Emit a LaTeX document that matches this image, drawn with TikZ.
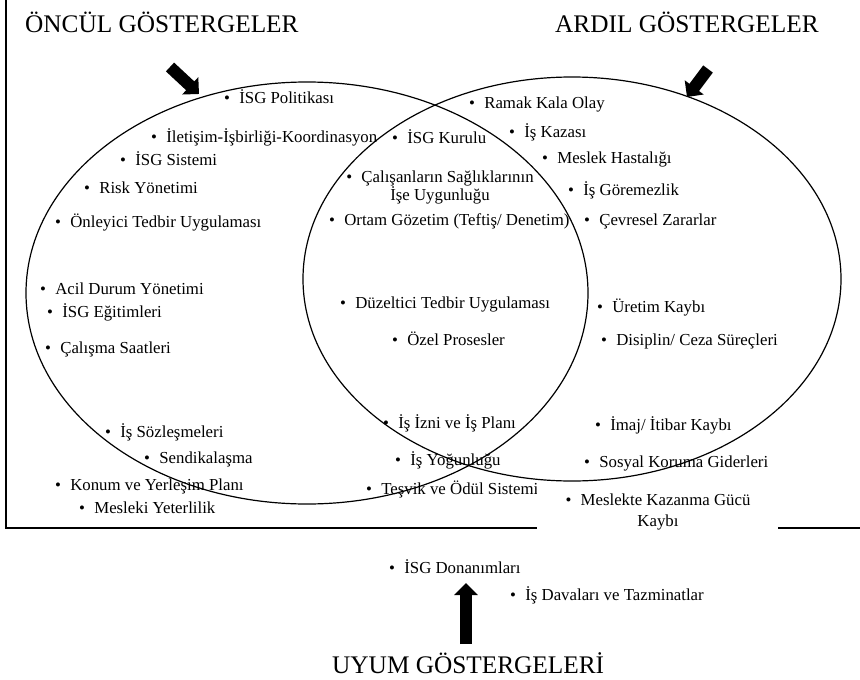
\documentclass[tikz,border=0pt]{standalone}
\usepackage{fontspec}
\setmainfont{Liberation Serif}
\usetikzlibrary{arrows.meta}
\newcommand\itembul{\textbullet\hspace{0.55em}}
\begin{document}
\begin{tikzpicture}[x=1pt,y=-1pt,
  item/.style={anchor=base west, inner sep=0pt, font=\fontsize{16.8}{18}\selectfont},
  citem/.style={item, anchor=base, align=center},
  title/.style={anchor=base west, inner sep=0pt, font=\fontsize{25.3}{28}\selectfont},
  ell/.style={line width=1.2pt},
  frameline/.style={line width=1.5pt},
  bigarrow/.style={line width=12pt, -{Triangle[length=12pt,width=23pt]}}]
\useasboundingbox (0,0) rectangle (860,680);

% frame
\coordinate (f1) at (6,0);
\coordinate (f2) at (6,528);
\coordinate (f3) at (860,528);
\draw[frameline] (f1) -- (f2) -- (f3);

% ellipses
\draw[ell] (307,293) ellipse [x radius=281pt, y radius=211pt];
\draw[ell] (572,279) ellipse [x radius=269pt, y radius=202pt];

% titles
\node[title] (t1) at (25,32) {ÖNCÜL GÖSTERGELER};
\node[title] (t2) at (555,32) {ARDIL GÖSTERGELER};
\node[title] (t3) at (332,673) {UYUM GÖSTERGELERİ};

% arrows
\coordinate (a1s) at (170,67); \coordinate (a1e) at (199,94);
\coordinate (a2s) at (708,69); \coordinate (a2e) at (687,97);
\coordinate (a3s) at (466,644); \coordinate (a3e) at (466,583);
\draw[bigarrow] (a1s) -- (a1e);
\draw[bigarrow] (a2s) -- (a2e);
\draw[bigarrow] (a3s) -- (a3e);

% leading indicators
\node[item] (l1) at (224,103) {\itembul İSG Politikası};
\node[item] (l2) at (151,142) {\itembul İletişim-İşbirliği-Koordinasyon};
\node[item] (l3) at (120,165) {\itembul İSG Sistemi};
\node[item] (l4) at (84,193) {\itembul Risk Yönetimi};
\node[item] (l5) at (55,227) {\itembul Önleyici Tedbir Uygulaması};
\node[item] (l6) at (40,294) {\itembul Acil Durum Yönetimi};
\node[item] (l7) at (47,317) {\itembul İSG Eğitimleri};
\node[item] (l8) at (45,353) {\itembul Çalışma Saatleri};
\node[item] (l9) at (105,437) {\itembul İş Sözleşmeleri};
\node[item] (l10) at (144,463) {\itembul Sendikalaşma};
\node[item] (l11) at (55,490) {\itembul Konum ve Yerleşim Planı};
\node[item] (l12) at (79,513) {\itembul Mesleki Yeterlilik};

% common
\node[item] (c1) at (392,143) {\itembul İSG Kurulu};
\node[citem] (c2) at (440,200) {\itembul Çalışanların Sağlıklarının\\İşe Uygunluğu};
\node[item] (c3) at (329,225) {\itembul Ortam Gözetim (Teftiş/ Denetim)};
\node[item] (c4) at (340,308) {\itembul Düzeltici Tedbir Uygulaması};
\node[item] (c5) at (392,345) {\itembul Özel Prosesler};
\node[item] (c6) at (383,428) {\itembul İş İzni ve İş Planı};
\node[item] (c7) at (395,465) {\itembul İş Yoğunluğu};
\node[item] (c8) at (366,494) {\itembul Teşvik ve Ödül Sistemi};

% lagging indicators
\node[item] (r1) at (469,108) {\itembul Ramak Kala Olay};
\node[item] (r2) at (509,137) {\itembul İş Kazası};
\node[item] (r3) at (542,163) {\itembul Meslek Hastalığı};
\node[item] (r4) at (568,195) {\itembul İş Göremezlik};
\node[item] (r5) at (584,225) {\itembul Çevresel Zararlar};
\node[item] (r6) at (597,312) {\itembul Üretim Kaybı};
\node[item] (r7) at (601,345) {\itembul Disiplin/ Ceza Süreçleri};
\node[item] (r8) at (595,430) {\itembul İmaj/ İtibar Kaybı};
\node[item] (r9) at (584,467) {\itembul Sosyal Koruma Giderleri};

% white patch over the bottom line
\fill[white] (537,485) rectangle (778,536);
\node[citem] (r10) at (658,526) {\itembul Meslekte Kazanma Gücü\\[3pt]Kaybı};

% compliance indicators
\node[item] (u1) at (389,573) {\itembul İSG Donanımları};
\node[item] (u2) at (510,600) {\itembul İş Davaları ve Tazminatlar};
\end{tikzpicture}
\end{document}
